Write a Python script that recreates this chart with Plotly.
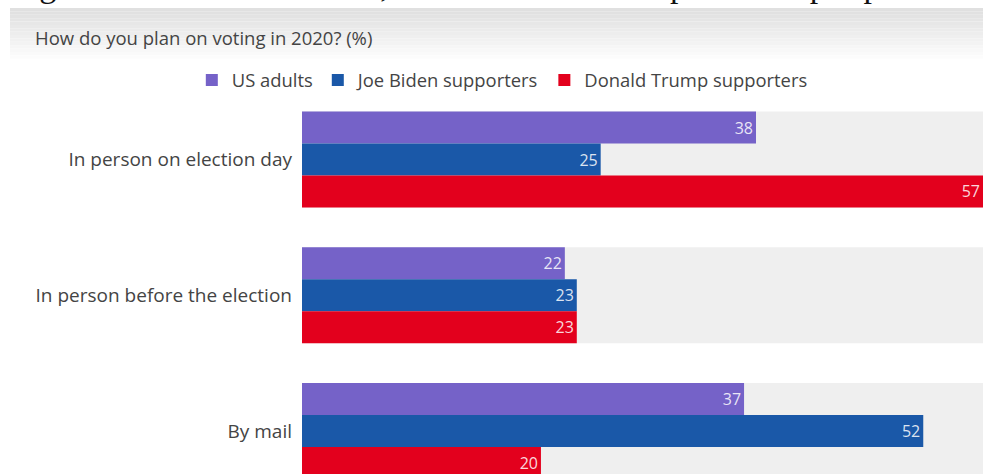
import plotly.graph_objects as go

# Survey data: "How do you plan on voting in 2020? (%)"
categories = ["In person on election day", "In person before the election", "By mail"]
us_adults = [38, 22, 37]
biden_supporters = [25, 23, 52]
trump_supporters = [57, 23, 20]

series_names = ["US adults", "Joe Biden supporters", "Donald Trump supporters"]
series_values = [us_adults, biden_supporters, trump_supporters]
series_colors = ["#7562c8", "#1a58a8", "#e3001d"]

FONT = "Open Sans"
W, H = 983, 474
T, L = 104, 302            # plot area top / left in pixels
PH = H - T                 # plot area height
UNIT = 135.75              # pixels between category centres
C0 = 159.5                 # pixel centre of the first category


def py(pix):
    """pixel row -> paper y"""
    return 1 + (T - pix) / PH


def px(pix):
    """pixel column -> paper x"""
    return (pix - L) / (W - L)


fig = go.Figure()
for name, vals, col in zip(series_names, series_values, series_colors):
    fig.add_trace(go.Bar(
        y=categories, x=vals, name=name, orientation="h",
        marker=dict(color=col, line=dict(width=0)),
        text=[str(v) for v in vals], textposition="inside",
        insidetextanchor="end", textangle=0,
        textfont=dict(family=FONT, size=16, color="rgba(255,255,255,0.85)"),
        hoverinfo="skip",
    ))

# light grey track behind each group of bars
bargap = 0.293
half = (1 - bargap) / 2
shapes = []
for i in range(len(categories)):
    shapes.append(dict(type="rect", xref="paper", x0=0, x1=1, yref="y",
                       y0=i - half, y1=i + half, fillcolor="#efefef",
                       line=dict(width=0), layer="below"))

# header band fading from grey to white
band_top, band_bottom = 8, 62
steps = 16
for k in range(steps):
    y0 = band_top + (band_bottom - band_top) * k / steps
    y1 = band_top + (band_bottom - band_top) * (k + 1) / steps
    g = int(224 + (255 - 224) * (k / (steps - 1)) ** 1.1)
    shapes.append(dict(type="rect", xref="paper", yref="paper",
                       x0=px(10), x1=1.0, y0=py(y0), y1=py(y1),
                       fillcolor=f"rgb({g},{g},{g})", line=dict(width=0),
                       layer="below"))

fig.update_layout(
    width=W, height=H,
    margin=dict(l=L, r=0, t=T, b=0, pad=0),
    paper_bgcolor="white", plot_bgcolor="white",
    barmode="group", bargap=bargap, bargroupgap=0,
    shapes=shapes,
    showlegend=True,
    legend=dict(orientation="h", xref="container", yref="container",
                x=0.511, xanchor="center", y=1 - 80 / H, yanchor="middle",
                font=dict(family=FONT, size=18.4, color="#444"),
                itemwidth=30, traceorder="normal", bgcolor="rgba(0,0,0,0)"),
    xaxis=dict(range=[0, 57], visible=False, showgrid=False, zeroline=False),
    yaxis=dict(type="category",
               range=[(H - C0) / UNIT, -(C0 - T) / UNIT],
               showgrid=False, zeroline=False, showline=False, ticks="",
               ticklabelstandoff=9,
               tickfont=dict(family=FONT, size=19, color="#444")),
    annotations=[
        dict(text="How do you plan on voting in 2020? (%)",
             xref="paper", yref="paper", x=px(33), y=py(37),
             xanchor="left", yanchor="middle", showarrow=False,
             font=dict(family=FONT, size=18.5, color="#444")),
        dict(text="Figura 5. Intención de voto, a través del voto en persona o por posta",
             xref="paper", yref="paper", x=px(10), y=py(5),
             xanchor="left", yanchor="bottom", showarrow=False, borderpad=0,
             font=dict(family="Liberation Serif", size=34, color="#111")),
    ],
)

fig.write_html("out.html")
